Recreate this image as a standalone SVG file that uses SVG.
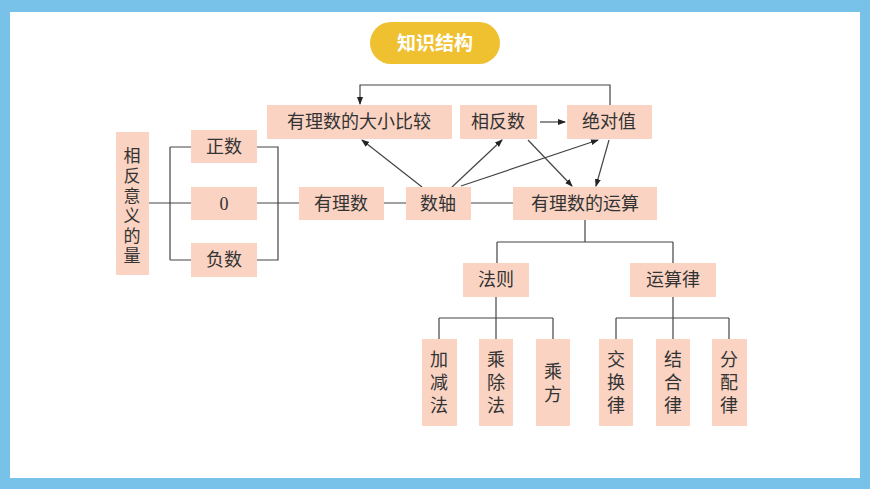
<svg xmlns="http://www.w3.org/2000/svg" width="870" height="489" viewBox="0 0 870 489">
<style>
.b{fill:#FAD3C3}
.t{font-family:"Liberation Serif","Noto Sans CJK SC",serif;font-size:18px;fill:#333;text-anchor:middle}
.l{stroke:#444;stroke-width:1.2;fill:none}
</style>
<defs><marker id="a" markerWidth="8" markerHeight="8" refX="7" refY="4" orient="auto" markerUnits="userSpaceOnUse"><path d="M0,1 L8,4 L0,7 Z" fill="#222"/></marker></defs>
<rect width="870" height="489" fill="#78C2EA"/>
<rect x="10" y="12" width="850" height="466" fill="#fff"/>
<g id="title"><rect x="370" y="22" width="130" height="42" rx="21" fill="#EFC02F"/><text x="435" y="50" text-anchor="middle" font-family="Noto Sans CJK SC,sans-serif" font-weight="bold" font-size="19" fill="#fff">知识结构</text></g>
<g id="connectors">
<path class="l" d="M149,203 H191 M170,147 V260 M170,147 H191 M170,260 H191 M257,147 H278 V260 H257 M257,203 H299 M384,203 H406 M471,203 H513"/>
<path class="l" d="M585,220 V242 M497,242 H673 M497,242 V263 M673,242 V263"/>
<path class="l" d="M496,297 V339 M439,318 H553 M439,318 V339 M553,318 V339 M673,297 V339 M616,318 H729 M616,318 V339 M729,318 V339"/>
<path class="l" d="M610,105 V85 H360 V104" marker-end="url(#a)"/>
<path class="l" d="M540,122 H565" marker-end="url(#a)"/>
<path class="l" d="M422,187 L362,140" marker-end="url(#a)"/>
<path class="l" d="M452,187 L502,140" marker-end="url(#a)"/>
<path class="l" d="M461,186 L598,140" marker-end="url(#a)"/>
<path class="l" d="M528,140 L572,186" marker-end="url(#a)"/>
<path class="l" d="M609,140 L596,186" marker-end="url(#a)"/>
</g>
<g id="n1"><rect class="b" x="267" y="105" width="185" height="34"/><text class="t" x="359" y="128">有理数的大小比较</text></g>
<g id="n2"><rect class="b" x="460" y="105" width="77" height="34"/><text class="t" x="498" y="128">相反数</text></g>
<g id="n3"><rect class="b" x="567" y="105" width="85" height="34"/><text class="t" x="609" y="128">绝对值</text></g>
<g id="n4" font-size="17"><rect class="b" x="116" y="132" width="33" height="143"/><text class="t" style="font-size:17px" x="132" y="162">相</text><text class="t" style="font-size:17px" x="132" y="182">反</text><text class="t" style="font-size:17px" x="132" y="202">意</text><text class="t" style="font-size:17px" x="132" y="222">义</text><text class="t" style="font-size:17px" x="132" y="242">的</text><text class="t" style="font-size:17px" x="132" y="262">量</text></g>
<g id="n5"><rect class="b" x="191" y="130" width="66" height="33"/><text class="t" x="224" y="153">正数</text></g>
<g id="n6"><rect class="b" x="191" y="187" width="66" height="33"/><text class="t" x="224" y="210">0</text></g>
<g id="n7"><rect class="b" x="191" y="243" width="66" height="34"/><text class="t" x="224" y="266">负数</text></g>
<g id="n8"><rect class="b" x="299" y="187" width="85" height="33"/><text class="t" x="341" y="210">有理数</text></g>
<g id="n9"><rect class="b" x="406" y="187" width="65" height="33"/><text class="t" x="438" y="210">数轴</text></g>
<g id="n10"><rect class="b" x="513" y="187" width="144" height="33"/><text class="t" x="585" y="210">有理数的运算</text></g>
<g id="n11"><rect class="b" x="463" y="263" width="66" height="34"/><text class="t" x="496" y="286">法则</text></g>
<g id="n12"><rect class="b" x="630" y="263" width="86" height="34"/><text class="t" x="673" y="286">运算律</text></g>
<g id="n13"><rect class="b" x="422" y="339" width="35" height="87"/><text class="t" x="439" y="366">加</text><text class="t" x="439" y="389">减</text><text class="t" x="439" y="412">法</text></g>
<g id="n14"><rect class="b" x="479" y="339" width="34" height="87"/><text class="t" x="496" y="366">乘</text><text class="t" x="496" y="389">除</text><text class="t" x="496" y="412">法</text></g>
<g id="n15"><rect class="b" x="536" y="339" width="34" height="87"/><text class="t" x="553" y="378">乘</text><text class="t" x="553" y="401">方</text></g>
<g id="n16"><rect class="b" x="599" y="339" width="34" height="87"/><text class="t" x="616" y="366">交</text><text class="t" x="616" y="389">换</text><text class="t" x="616" y="412">律</text></g>
<g id="n17"><rect class="b" x="656" y="339" width="34" height="87"/><text class="t" x="673" y="366">结</text><text class="t" x="673" y="389">合</text><text class="t" x="673" y="412">律</text></g>
<g id="n18"><rect class="b" x="712" y="339" width="35" height="87"/><text class="t" x="729" y="366">分</text><text class="t" x="729" y="389">配</text><text class="t" x="729" y="412">律</text></g>
</svg>
